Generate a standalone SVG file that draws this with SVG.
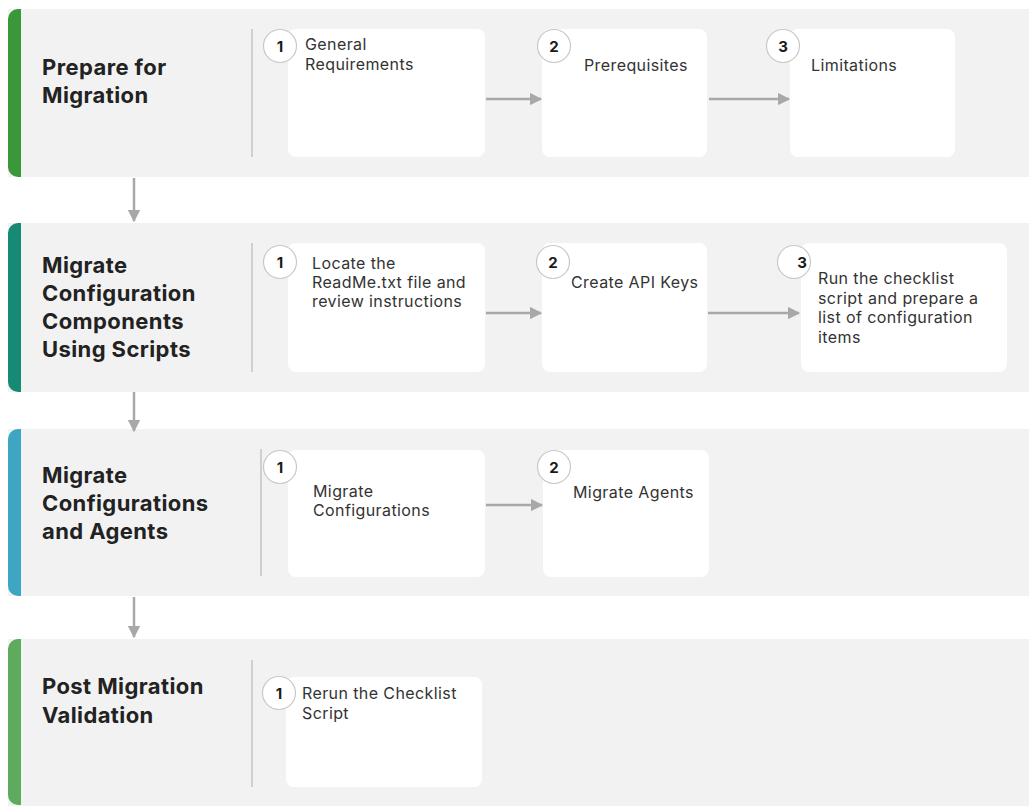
<svg xmlns="http://www.w3.org/2000/svg" width="1029" height="806" viewBox="0 0 1029 806">
<defs>
<style>
.band{fill:#f2f2f2}
.div{stroke:#cfcfcf;stroke-width:2}
.box{fill:#ffffff}
.num{fill:#ffffff;stroke:#c8c8c8;stroke-width:1.2}
.numt{font-family:Inter,"Liberation Sans",sans-serif;font-size:15px;font-weight:700;fill:#1a1a1a;text-anchor:middle}
.title{font-family:Inter,"Liberation Sans",sans-serif;font-size:22px;font-weight:700;fill:#222222;letter-spacing:0.4px}
.lbl{font-family:Inter,"Liberation Sans",sans-serif;font-size:16px;fill:#333333;letter-spacing:0.4px}
.conn{stroke:#a8a8a8;stroke-width:2.5;fill:none;marker-end:url(#ah)}
</style>
<marker id="ah" viewBox="0 0 10 10" refX="9" refY="5" markerWidth="5" markerHeight="5" orient="auto" markerUnits="strokeWidth">
<path d="M0,0 L10,5 L0,10 z" fill="#a8a8a8"/>
</marker>
</defs>

<g id="band1">
<rect class="band" x="8" y="9" width="1021" height="168"/>
<path d="M21,9 V177 H18 A10,10 0 0 1 8,167 V19 A10,10 0 0 1 18,9 Z" fill="#3a983a"/>
<text class="title" x="42" y="75">Prepare for</text>
<text class="title" x="42" y="103">Migration</text>
<line class="div" x1="252" y1="29" x2="252" y2="157"/>
</g>
<g id="b1n1">
<rect class="box" x="288" y="29" width="197" height="128" rx="8"/>
<circle class="num" cx="280" cy="46" r="16.5"/>
<text class="numt" x="280" y="51.5">1</text>
<text class="lbl" x="305" y="50">General</text>
<text class="lbl" x="305" y="70">Requirements</text>
</g>
<g id="b1n2">
<rect class="box" x="542" y="29" width="165" height="128" rx="8"/>
<circle class="num" cx="554" cy="46" r="16.5"/>
<text class="numt" x="554" y="51.5">2</text>
<text class="lbl" x="584" y="71">Prerequisites</text>
</g>
<g id="b1n3">
<rect class="box" x="790" y="29" width="165" height="128" rx="8"/>
<circle class="num" cx="783" cy="46" r="16.5"/>
<text class="numt" x="783" y="51.5">3</text>
<text class="lbl" x="811" y="71">Limitations</text>
</g>

<g id="band2">
<rect class="band" x="8" y="223" width="1021" height="169"/>
<path d="M21,223 V392 H18 A10,10 0 0 1 8,382 V233 A10,10 0 0 1 18,223 Z" fill="#178a76"/>
<text class="title" x="42" y="273">Migrate</text>
<text class="title" x="42" y="301">Configuration</text>
<text class="title" x="42" y="329">Components</text>
<text class="title" x="42" y="357">Using Scripts</text>
<line class="div" x1="252" y1="243" x2="252" y2="372"/>
</g>
<g id="b2n1">
<rect class="box" x="288" y="243" width="197" height="129" rx="8"/>
<circle class="num" cx="280" cy="262" r="16.5"/>
<text class="numt" x="280" y="267.5">1</text>
<text class="lbl" x="312" y="269">Locate the</text>
<text class="lbl" x="312" y="288">ReadMe.txt file and</text>
<text class="lbl" x="312" y="307">review instructions</text>
</g>
<g id="b2n2">
<rect class="box" x="542" y="243" width="165" height="129" rx="8"/>
<circle class="num" cx="553" cy="262" r="16.5"/>
<text class="numt" x="553" y="267.5">2</text>
<text class="lbl" x="571" y="288">Create API Keys</text>
</g>
<g id="b2n3">
<rect class="box" x="801" y="243" width="206" height="129" rx="8"/>
<circle class="num" cx="794" cy="262" r="16.5"/>
<text class="numt" x="802" y="268">3</text>
<text class="lbl" x="818" y="284">Run the checklist</text>
<text class="lbl" x="818" y="303.5">script and prepare a</text>
<text class="lbl" x="818" y="323">list of configuration</text>
<text class="lbl" x="818" y="342.5">items</text>
</g>

<g id="band3">
<rect class="band" x="8" y="429" width="1021" height="167"/>
<path d="M21,429 V596 H18 A10,10 0 0 1 8,586 V439 A10,10 0 0 1 18,429 Z" fill="#3ea6c2"/>
<text class="title" x="42" y="483">Migrate</text>
<text class="title" x="42" y="511">Configurations</text>
<text class="title" x="42" y="539">and Agents</text>
<line class="div" x1="261" y1="449" x2="261" y2="576"/>
</g>
<g id="b3n1">
<rect class="box" x="288" y="450" width="197" height="127" rx="8"/>
<circle class="num" cx="280" cy="467" r="16.5"/>
<text class="numt" x="280" y="472.5">1</text>
<text class="lbl" x="313" y="497">Migrate</text>
<text class="lbl" x="313" y="516">Configurations</text>
</g>
<g id="b3n2">
<rect class="box" x="543" y="450" width="166" height="127" rx="8"/>
<circle class="num" cx="554" cy="467" r="16.5"/>
<text class="numt" x="554" y="472.5">2</text>
<text class="lbl" x="573" y="498">Migrate Agents</text>
</g>

<g id="band4">
<rect class="band" x="8" y="639" width="1021" height="167"/>
<path d="M21,639 V805 H18 A10,10 0 0 1 8,795 V649 A10,10 0 0 1 18,639 Z" fill="#5eab5e"/>
<text class="title" x="42" y="694">Post Migration</text>
<text class="title" x="42" y="723">Validation</text>
<line class="div" x1="252" y1="660" x2="252" y2="787"/>
</g>
<g id="b4n1">
<rect class="box" x="286" y="677" width="196" height="110" rx="8"/>
<circle class="num" cx="279" cy="693" r="16.5"/>
<text class="numt" x="279" y="698.5">1</text>
<text class="lbl" x="302" y="699">Rerun the Checklist</text>
<text class="lbl" x="302" y="719">Script</text>
</g>

<g id="connectors">
<line class="conn" x1="486" y1="99" x2="541" y2="99"/>
<line class="conn" x1="709" y1="99" x2="789" y2="99"/>
<line class="conn" x1="486" y1="313" x2="541" y2="313"/>
<line class="conn" x1="708" y1="313" x2="799" y2="313"/>
<line class="conn" x1="486" y1="505" x2="542" y2="505"/>
<line class="conn" x1="134" y1="178" x2="134" y2="221"/>
<line class="conn" x1="134" y1="392" x2="134" y2="431"/>
<line class="conn" x1="134" y1="597" x2="134" y2="637"/>
</g>
</svg>
